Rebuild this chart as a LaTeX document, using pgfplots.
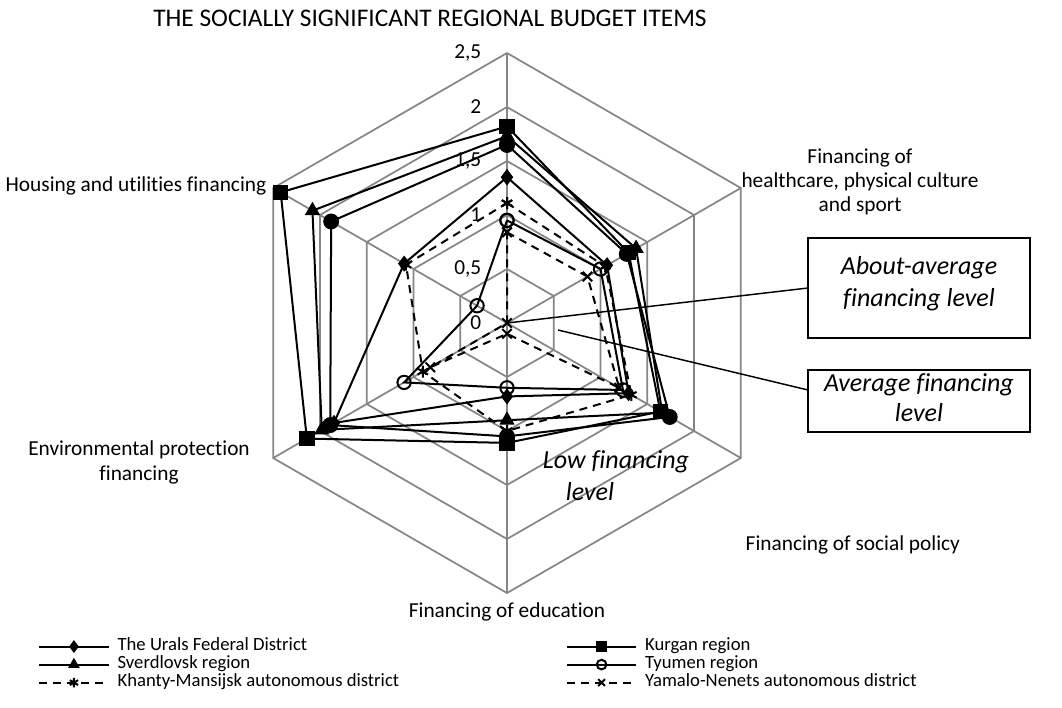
\documentclass[border=0pt]{standalone}
\usepackage{pgfplots}
\pgfplotsset{compat=1.18}
\usepgfplotslibrary{polar}
\usepackage{fontspec}
\setmainfont{Carlito}[Ligatures=NoCommon]
\definecolor{gridgray}{RGB}{134,134,134}
\begin{document}
\begin{tikzpicture}
\path[use as bounding box] (0pt,0pt) rectangle (796.5pt,-530.25pt);
\begin{polaraxis}[
  at={(380.25pt,-242.25pt)}, anchor=center,
  scale only axis, width=405pt, height=405pt,
  xmin=0, xmax=360, ymin=0, ymax=2.5,
  hide axis, clip=false,
  legend columns=2,
  legend cell align=left,
  legend style={at={(-0.3685,-0.0833)}, anchor=north west, draw=none, fill=none,
    inner sep=0pt, font=\fontsize{14}{14}\selectfont,
    nodes={inner sep=0pt, text height=9.5pt, text depth=3pt},
    row sep=1pt,
    /tikz/every even column/.append style={column sep=125pt},
    /tikz/every odd column/.append style={column sep=6pt}},
  legend image code/.code={\draw[mark repeat=2,mark phase=2,#1,mark size=3.6pt] plot coordinates {(0pt,0pt)(26pt,0pt)(52pt,0pt)};},
]
% grid
\addplot[gridgray, line width=1.3pt, forget plot] coordinates {(90,0.5)(30,0.5)(330,0.5)(270,0.5)(210,0.5)(150,0.5)(90,0.5)};
\addplot[gridgray, line width=1.3pt, forget plot] coordinates {(90,1)(30,1)(330,1)(270,1)(210,1)(150,1)(90,1)};
\addplot[gridgray, line width=1.3pt, forget plot] coordinates {(90,1.5)(30,1.5)(330,1.5)(270,1.5)(210,1.5)(150,1.5)(90,1.5)};
\addplot[gridgray, line width=1.3pt, forget plot] coordinates {(90,2)(30,2)(330,2)(270,2)(210,2)(150,2)(90,2)};
\addplot[gridgray, line width=1.3pt, forget plot] coordinates {(90,2.5)(30,2.5)(330,2.5)(270,2.5)(210,2.5)(150,2.5)(90,2.5)};
\addplot[gridgray, line width=1.3pt, forget plot] coordinates {(90,0)(90,2.5)};
\addplot[gridgray, line width=1.3pt, forget plot] coordinates {(30,0)(30,2.5)};
\addplot[gridgray, line width=1.3pt, forget plot] coordinates {(330,0)(330,2.5)};
\addplot[gridgray, line width=1.3pt, forget plot] coordinates {(270,0)(270,2.5)};
\addplot[gridgray, line width=1.3pt, forget plot] coordinates {(210,0)(210,2.5)};
\addplot[gridgray, line width=1.3pt, forget plot] coordinates {(150,0)(150,2.5)};
% unlabelled series (filled circle)
\addplot[black, line width=1.5pt, mark=*, mark size=5.2pt, forget plot] coordinates {(90,1.65)(30,1.28)(330,1.74)(270,1.05)(210,1.89)(150,1.88)(90,1.65)};
% Urals
\addplot[black, line width=1.5pt, mark=diamond*, mark size=4.8pt] coordinates {(90,1.35)(30,1.07)(330,1.30)(270,0.68)(210,1.85)(150,1.10)(90,1.35)};
\addlegendentry{The Urals Federal District}
% Kurgan
\addplot[black, line width=1.5pt, mark=square*, mark size=5pt] coordinates {(90,1.82)(30,1.30)(330,1.64)(270,1.11)(210,2.14)(150,2.42)(90,1.82)};
\addlegendentry{Kurgan region}
% Sverdlovsk
\addplot[black, line width=1.5pt, mark=triangle*, mark size=5.2pt] coordinates {(90,1.73)(30,1.38)(330,1.66)(270,0.90)(210,1.98)(150,2.08)(90,1.73)};
\addlegendentry{Sverdlovsk region}
% Tyumen
\addplot[black, line width=1.5pt, mark=o, mark size=5pt, mark options={fill=white}] coordinates {(90,0.95)(30,1.00)(330,1.24)(270,0.60)(210,1.10)(150,0.32)(90,0.95)};
\addlegendentry{Tyumen region}
% Khanty
\addplot[black, line width=1.5pt, dash pattern=on 6pt off 4.5pt, mark=asterisk, mark size=4.5pt, mark options={solid}] coordinates {(90,1.11)(30,1.05)(330,1.33)(270,1.00)(210,0.90)(150,1.08)(90,1.11)};
\addlegendentry{Khanty-Mansijsk autonomous district}
% Yamalo
\addplot[black, line width=1.5pt, dash pattern=on 6pt off 4.5pt, mark=x, mark size=5pt, mark options={solid}] coordinates {(90,0.84)(30,0.86)(330,1.20)(270,0.10)(210,0.82)(150,0.00)(90,0.84)};
\addlegendentry{Yamalo-Nenets autonomous district}
\end{polaraxis}
\begin{scope}[x=0.75pt,y=-0.75pt]
\node[font=\fontsize{16}{18}\selectfont] at (430,18) {\resizebox{415pt}{!}{THE SOCIALLY SIGNIFICANT REGIONAL BUDGET ITEMS}};
\begin{scope}[every node/.style={font=\fontsize{16}{18}\selectfont}]
\node[anchor=east] at (486,323) {0};
\node[anchor=east] at (486,269) {0,5};
\node[anchor=east] at (486,215) {1};
\node[anchor=east] at (486,161) {1,5};
\node[anchor=east] at (486,107) {2};
\node[anchor=east] at (486,53) {2,5};
\node[align=center] at (860,182) {Financing of\\healthcare, physical culture\\and sport};
\node[anchor=west] at (741,545) {Financing of social policy};
\node at (507,612) {Financing of education};
\node[align=center, font=\fontsize{16}{18.75}\selectfont] at (139,462) {Environmental protection\\financing};
\node[anchor=east] at (271,186) {Housing and utilities financing};
\end{scope}
\draw[line width=1.1pt] (808,288) -- (507,323);
\draw[line width=1.1pt] (808,390) -- (558,330);
\draw[line width=1.1pt, fill=white] (808,238) rectangle (1030,338);
\draw[line width=1.1pt, fill=white] (808,370) rectangle (1030,432);
\begin{scope}[every node/.style={font=\itshape\fontsize{19.5}{24}\selectfont}]
\node at (919,268) {About-average};
\node at (919,300) {financing level};
\node at (919,385) {Average financing};
\node at (919,413) {level};
\node at (616,462) {Low financing};
\node at (590,492) {level};
\end{scope}
\end{scope}
\end{tikzpicture}
\end{document}
